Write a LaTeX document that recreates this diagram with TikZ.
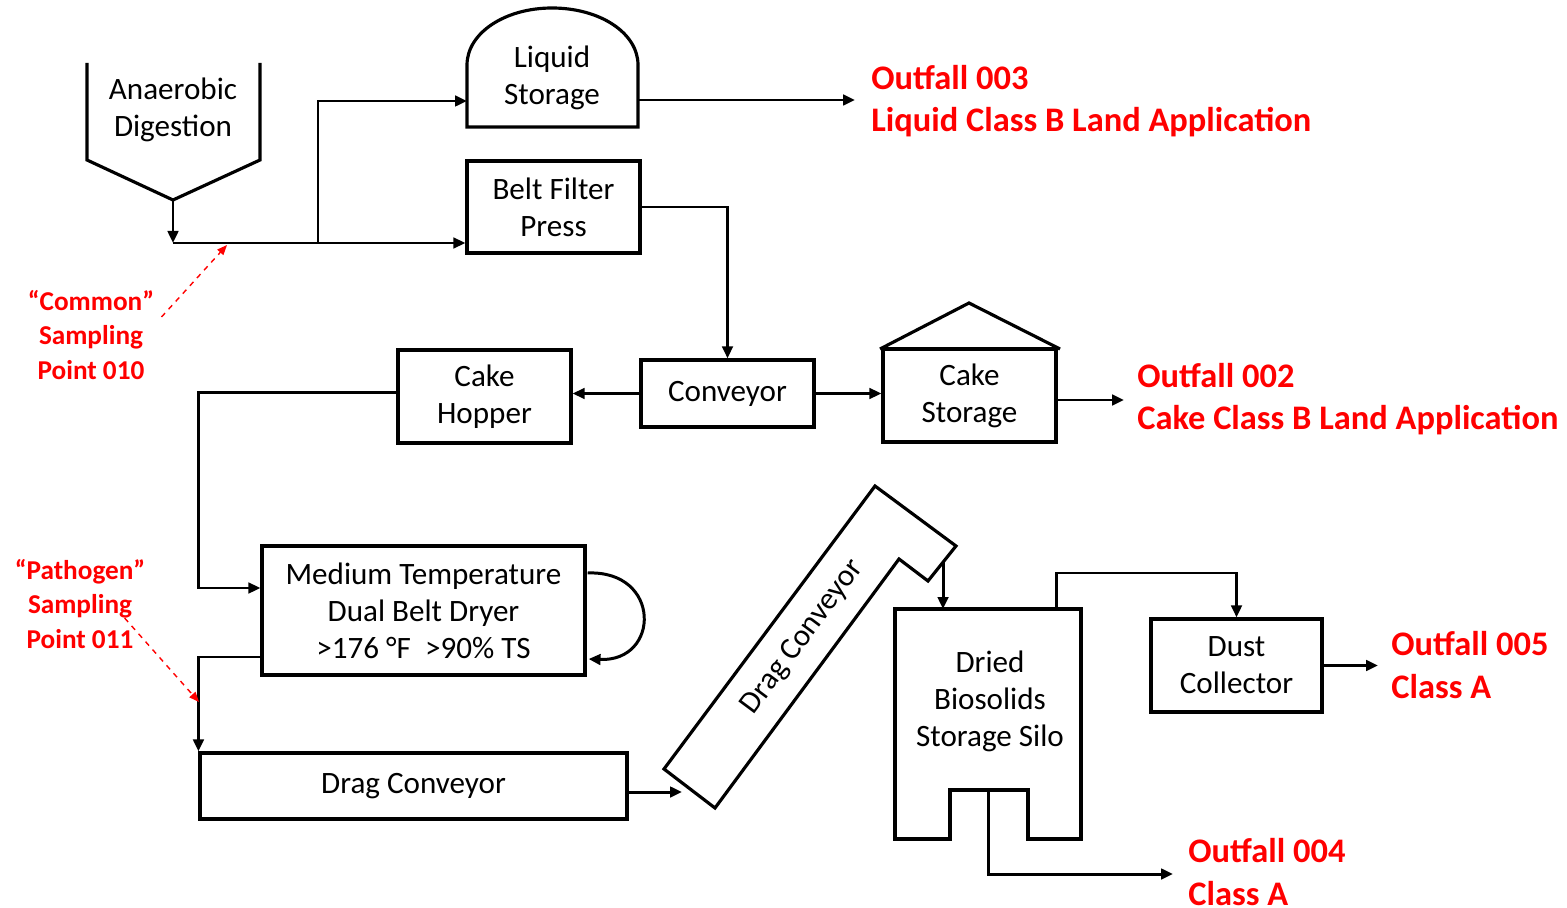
\documentclass[tikz,border=0pt]{standalone}
\usepackage{fontspec}
\setmainfont{Carlito}
\usetikzlibrary{arrows.meta,calc}
\tikzset{
  unit/.style={draw,line width=1.8pt,inner sep=0pt,align=center,font=\fontsize{17.7}{21}\selectfont},
  plain/.style={inner sep=0pt,align=center,font=\fontsize{17.7}{21}\selectfont},
  outfall/.style={inner sep=0pt,anchor=west,align=left,text=red,font=\bfseries\fontsize{19.6}{24}\selectfont},
  samplabel/.style={inner sep=0pt,align=center,text=red,font=\bfseries\fontsize{15.5}{19.5}\selectfont},
  vessel/.style={line width=1.8pt,line join=miter},
  pipe/.style={line width=1.7pt},
  arr/.style={-{Triangle[length=2.4mm,width=2.1mm]},line width=1.7pt},
  samp/.style={-{Triangle[length=2mm,width=1.6mm]},draw=red,dashed,line width=0.8pt}
}

\begin{document}
\begin{tikzpicture}[x=0.02cm,y=-0.02cm]
\path[use as bounding box] (0,0) rectangle (1567,908);

% digester, liquid storage
\draw[vessel] (87,63) -- (87,160) -- (173,200) -- (260,160) -- (260,63);
\node[plain] (digest) at (173,110) {Anaerobic\\Digestion};
\coordinate (digbot) at (173,200);
\draw[vessel] (467,127) -- (467,65) .. controls (467,33) and (505,8) .. (552,8) .. controls (600,8) and (638,33) .. (638,65) -- (638,127) -- cycle;
\node[plain] (liq) at (552,78) {Liquid\\Storage};
\coordinate (liqin) at (467,101);
\coordinate (liqout) at (638,100);

% process units
\node[unit,minimum width=3.46cm,minimum height=1.84cm] (bfp) at (553.5,207) {Belt Filter\\Press};
\node[unit,minimum width=3.46cm,minimum height=1.34cm] (conv) at (727.5,393.5) {Conveyor};
\node[unit,minimum width=3.46cm,minimum height=1.86cm] (hopper) at (484.5,396.5) {Cake\\Hopper};
\node[unit,minimum width=3.46cm,minimum height=1.86cm] (cakest) at (969.5,395.5) {Cake\\Storage};
\draw[vessel] (880,349) -- (969,303) -- (1060,349);
\node[unit,minimum width=6.46cm,minimum height=2.58cm] (dryer) at (423.5,610.5) {Medium Temperature\\Dual Belt Dryer\\>176 °F~~>90\% TS};
\node[unit,minimum width=8.54cm,minimum height=1.32cm] (drag) at (413.5,786) {Drag Conveyor};
\node[unit,minimum width=3.42cm,minimum height=1.86cm] (dust) at (1236.5,665.5) {Dust\\Collector};

% inclined conveyor
\draw[vessel] (664,769) -- (875,486) -- (956,546) -- (928,581) -- (899,559) -- (715,808) -- cycle;
\node[plain,rotate=53.3] (incl) at (803,637) {Drag Conveyor};
\coordinate (inclin) at (682,792);
\coordinate (inclout) at (943,562);

% silo
\draw[vessel] (895,609) -- (1081,609) -- (1081,839) -- (1028,839) -- (1028,790) -- (950,790) -- (950,839) -- (895,839) -- cycle;
\node[plain] (silo) at (990,701) {Dried\\Biosolids\\Storage Silo};
\coordinate (silotop) at (990,609);
\coordinate (silovent) at (1056,609);
\coordinate (silobot) at (988,790);

% outfalls and sampling points
\node[outfall] (o003) at (871,101) {Outfall 003\\Liquid Class B Land Application};
\node[outfall] (o002) at (1137,399) {Outfall 002\\Cake Class B Land Application};
\node[outfall] (o005) at (1391,665) {Outfall 005\\Class A};
\node[outfall] (o004) at (1188,872) {Outfall 004\\Class A};
\node[samplabel] (s010) at (91,335) {“Common”\\Sampling\\Point 010};
\node[samplabel] (s011) at (80,604) {“Pathogen”\\Sampling\\Point 011};
\coordinate (tap010) at (227,245);
\coordinate (tap011) at (199,702);

% flows
\coordinate (junc) at (173,243);
\coordinate (split) at (318,243);
\draw[arr] (digbot) -- (junc);
\draw[pipe] (junc) -- (split);
\draw[arr] (split) -- (split -| bfp.west);
\draw[arr] (split) |- (liqin);
\draw[arr,shorten >=0.32cm] (liqout) -- (liqout -| o003.west);
\draw[arr] (bfp.east) -| (conv.north);
\draw[arr] (conv.west) -- (conv.west -| hopper.east);
\draw[arr] (conv.east) -- (conv.east -| cakest.west);
\draw[arr,shorten >=0.26cm] ($(cakest.east)+(0,4.5)$) -- ($(cakest.east -| o002.west)+(0,4.5)$);
\draw[arr] ($(hopper.west)+(0,-4)$) -- ++(-198,0) |- ($(dryer.west)+(0,-22.5)$);
\draw[arr] ($(dryer.east)+(1,-37.5)$) .. controls +(74,-3) and +(72,3) .. ($(dryer.east)+(2,48.5)$);
\draw[arr] ($(dryer.west)+(0,46.5)$) -| (drag.north west);
\draw[arr] ($(drag.east)+(0,6)$) -- (inclin);
\draw[arr] (inclout) -- (inclout |- silotop);
\draw[arr] (silovent) -- ++(0,-36) -| (dust.north);
\draw[arr,shorten >=0.26cm] (dust.east) -- (dust.east -| o005.west);
\draw[arr,shorten >=0.3cm] (silobot) |- ($(o004.west)+(0,2)$);
\draw[samp] ([xshift=0.14cm,yshift=0.36cm]s010.east) -- (tap010);
\draw[samp] ([xshift=-0.42cm,yshift=-0.28cm]s011.east) -- (tap011);
\end{tikzpicture}
\end{document}
